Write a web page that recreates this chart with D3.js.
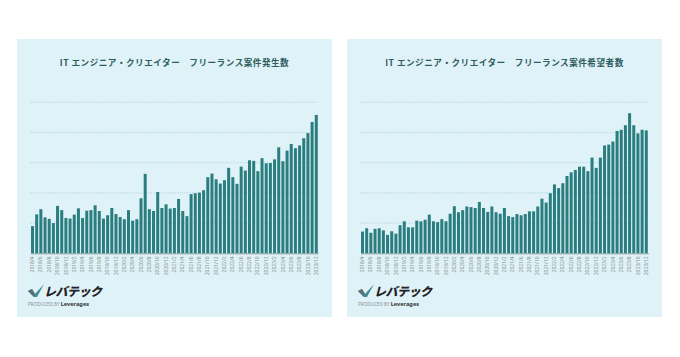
<!DOCTYPE html>
<html><head><meta charset="utf-8">
<script src="https://cdn.jsdelivr.net/npm/d3@7"></script>
<style>
html,body{margin:0;padding:0;background:#fff;}
svg{display:block;}
</style></head>
<body>
<svg id="c" width="680" height="357"></svg>
<script>
// ---- data ----
const startYear = 2018, startMonth = 4, monthCount = 69;
const months = [];
for (let i = 0; i < monthCount; i++) {
  const m = startMonth - 1 + i;
  months.push((startYear + Math.floor(m / 12)) + "/" + (m % 12 + 1));
}
const titles = ["IT エンジニア・クリエイター　フリーランス案件発生数", "IT エンジニア・クリエイター　フリーランス案件希望者数"];
const projects = [90,129,146,119,114,100,157,143,117,115,128,149,117,141,143,159,140,115,126,150,130,120,113,143,108,113,182,263,146,140,203,150,162,148,150,180,140,123,196,199,201,209,252,264,245,231,242,283,252,230,287,274,308,306,272,315,298,299,311,351,305,340,362,348,357,381,398,435,458];
const applicants = [72,83,68,81,83,76,61,73,65,93,106,86,86,108,106,111,128,106,103,113,106,131,156,136,143,155,153,150,170,150,137,155,136,131,150,123,120,130,126,130,139,139,155,181,168,199,228,216,232,256,268,276,287,287,272,317,283,317,357,360,370,405,409,424,464,424,397,409,407];
const gridValues = [100,200,300,400,500];
const series = [projects, applicants];

const svg = d3.select("#c");
const panelX = [17, 347], panelW = 315, panelY = 39, panelH = 278;

series.forEach((vals, k) => {
  const ox = panelX[k];
  const g = svg.append("g");
  g.append("rect").attr("x", ox).attr("y", panelY).attr("width", panelW).attr("height", panelH).attr("fill", "#dff2f7");
  g.append("text").attr("x", ox + panelW / 2).attr("y", 66)
    .attr("text-anchor", "middle").attr("font-family", "'Noto Sans CJK JP', sans-serif")
    .attr("font-weight", "bold").attr("font-size", 8.6).attr("letter-spacing", 0.5)
    .attr("fill", "#2e5c60").text(titles[k]);

  const x = d3.scaleBand().domain(months).range([ox + 13.6, ox + 301.2]).paddingInner(0.28).paddingOuter(0.1);
  const y = d3.scaleLinear().domain([0, 500]).range([253.3, 102.3]);

  g.selectAll(".grid").data(gridValues).enter().append("line")
    .attr("x1", ox + 13).attr("x2", ox + 301).attr("y1", d => y(d)).attr("y2", d => y(d))
    .attr("stroke", "#b5d9df").attr("stroke-width", 0.8).attr("stroke-dasharray", "2,1");

  g.selectAll(".bar").data(vals).enter().append("rect")
    .attr("x", (d, i) => x(months[i])).attr("width", x.bandwidth())
    .attr("y", d => y(d)).attr("height", d => y(0) - y(d)).attr("fill", "#2b7e80");

  const ax = g.append("g").attr("transform", "translate(0," + y(0) + ")")
    .call(d3.axisBottom(x).tickSize(0).tickPadding(3).tickValues(months.filter((m, i) => i % 2 === 0)));
  ax.select(".domain").attr("stroke", "#8a9a9c").attr("stroke-width", 1);
  ax.selectAll("text").attr("transform", "rotate(-90)").attr("text-anchor", "end")
    .attr("dx", "-3").attr("x", 0).attr("y", 0).attr("dy", "0.32em")
    .attr("font-size", 5).attr("fill", "#8a9294").attr("font-family", "'Noto Sans', sans-serif");

  // logo
  const lg = g.append("g").attr("transform", "translate(" + (ox + 11) + ",286)");
  lg.append("path").attr("d", "M0,5 L4,3 L7,8 L16,-2 L9,11 L6,11 Z").attr("fill", "#3a8f95");
  lg.append("path").attr("d", "M0,5 L4,3 L7,8 L6,11 Z").attr("fill", "#5c6f74");
  lg.append("text").attr("x", 16).attr("y", 10).attr("font-family", "'Noto Sans CJK JP', sans-serif")
    .attr("font-weight", "900").attr("font-size", 12).attr("font-style", "italic").attr("fill", "#1f2326")
    .attr("letter-spacing", -0.5).text("レバテック");
  const pt = lg.append("text").attr("x", 0).attr("y", 19.5).attr("font-family", "'Noto Sans', sans-serif").attr("font-size", 4.6);
  pt.append("tspan").attr("fill", "#8a8f92").text("PRODUCED BY ");
  pt.append("tspan").attr("fill", "#333").attr("font-weight", "bold").attr("font-size", 5.6).text("Leverages");
});
</script>
</body></html>
